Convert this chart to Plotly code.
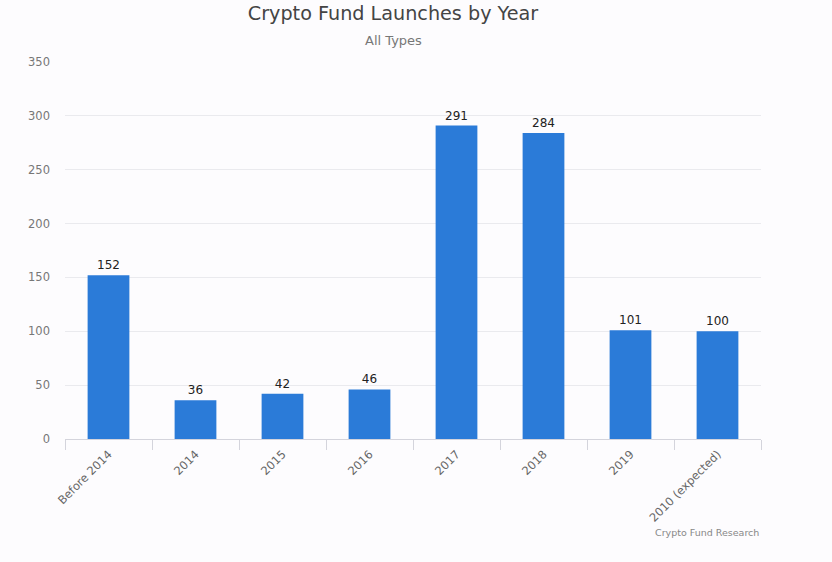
import plotly.graph_objects as go

categories = ["Before 2014", "2014", "2015", "2016", "2017", "2018", "2019", "2010 (expected)"]
launches = [152, 36, 42, 46, 291, 284, 101, 100]
y_ticks = [0, 50, 100, 150, 200, 250, 300, 350]

BG = "#fdfcfe"
FONT = "DejaVu Sans"

fig = go.Figure()

fig.add_trace(go.Bar(
    x=categories,
    y=launches,
    text=launches,
    textposition="outside",
    cliponaxis=False,
    textfont=dict(family=FONT, size=12, color="#222222"),
    marker=dict(color="#2b7bd8", line=dict(width=0)),
    width=0.48,
))

fig.update_layout(
    width=832,
    height=562,
    margin=dict(l=65, r=71, t=62, b=123),
    paper_bgcolor=BG,
    plot_bgcolor=BG,
    showlegend=False,
    font=dict(family=FONT, color="#555555"),
    title=dict(
        text="Crypto Fund Launches by Year",
        x=393 / 832, xanchor="center",
        y=1 - 13 / 562, yanchor="middle",
        font=dict(family=FONT, size=19.2, color="#444444"),
    ),
    annotations=[
        dict(text="All Types", xref="paper", yref="paper", x=(393 - 65) / 696, y=1 + 22 / 377,
             xanchor="center", yanchor="middle", showarrow=False,
             font=dict(family=FONT, size=13, color="#777777")),
        dict(text="Crypto Fund Research", xref="paper", yref="paper", x=1, y=-93 / 377,
             xanchor="right", yanchor="middle", showarrow=False,
             font=dict(family=FONT, size=9.5, color="#888888")),
    ],
)

fig.update_xaxes(
    type="category",
    tickangle=-45,
    tickson="boundaries",
    ticks="outside",
    ticklen=10,
    tickcolor="#d4d4dc",
    showline=True,
    linecolor="#d4d4dc",
    showgrid=False,
    ticklabelstandoff=3,
    tickfont=dict(family=FONT, size=11.5, color="#666666"),
)
fig.update_yaxes(
    range=[0, 350],
    tickvals=y_ticks,
    gridcolor="#eaeaee",
    zeroline=False,
    ticks="",
    ticklabelstandoff=14,
    tickfont=dict(family=FONT, size=11.5, color="#777777"),
)

# drop the page's default body margin so the figure fills the window
fig.write_html(
    "out.html",
    config={"displayModeBar": False},
    post_script="document.body.style.margin = '0';",
)
